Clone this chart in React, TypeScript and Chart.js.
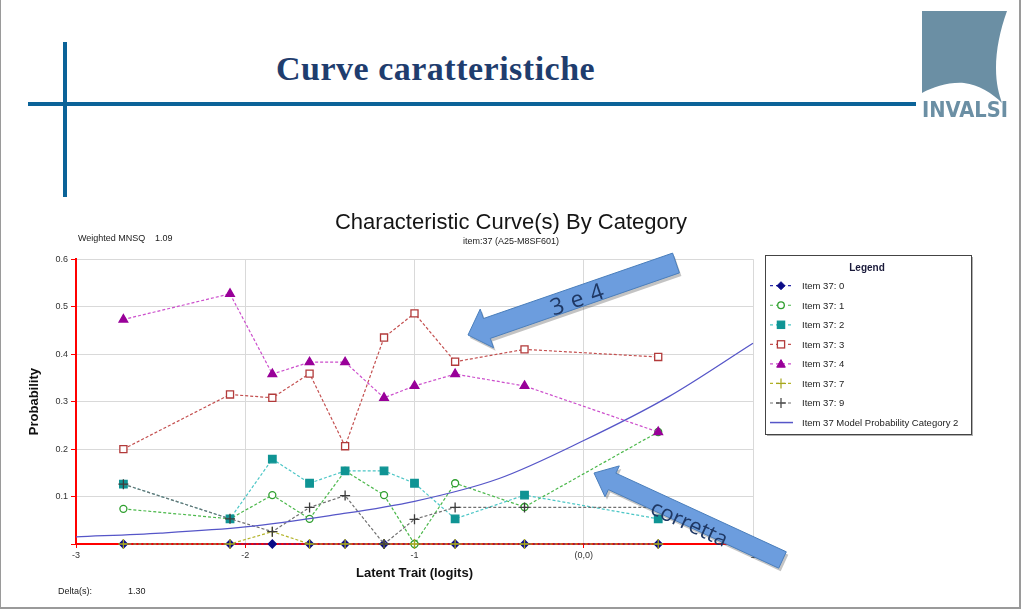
import React, { useEffect, useRef } from "react";
import { Chart, registerables } from "chart.js";

Chart.register(...registerables);

const FONT = '"Liberation Sans", Arial, sans-serif';

// Latent trait positions (logits) of the observed points
const xLogits = [-2.72, -2.09, -1.84, -1.62, -1.41, -1.18, -1.0, -0.76, -0.35, 0.44];
// Observed probabilities by category
const cat0 = [0, 0, 0, 0, 0, 0, 0, 0, 0, 0];
const cat1 = [0.074, 0.053, 0.103, 0.053, 0.154, 0.103, 0, 0.128, 0.078, 0.236];
const cat2 = [0.126, 0.053, 0.179, 0.128, 0.154, 0.154, 0.128, 0.053, 0.103, 0.053];
const cat3 = [0.2, 0.315, 0.308, 0.359, 0.206, 0.435, 0.486, 0.384, 0.41, 0.394];
const cat4 = [0.473, 0.527, 0.358, 0.383, 0.383, 0.308, 0.333, 0.358, 0.333, 0.236];
const cat7 = [0, 0, 0.026, 0, 0, 0, 0, 0, 0, 0];
const cat9 = [0.126, 0.053, 0.026, 0.077, 0.102, 0, 0.052, 0.077, 0.077, 0.077];
// Model probability curve (category 2)
const modelX = [-3, -2.5, -2, -1.5, -1, -0.5, 0, 0.5, 1];
const modelP = [0.015, 0.023, 0.036, 0.06, 0.09, 0.138, 0.218, 0.31, 0.423];

const seriesLabels = [
  "Item 37: 0",
  "Item 37: 1",
  "Item 37: 2",
  "Item 37: 3",
  "Item 37: 4",
  "Item 37: 7",
  "Item 37: 9",
  "Item 37 Model Probability Category 2",
];
const yTicks = [0, 0.1, 0.2, 0.3, 0.4, 0.5, 0.6];
const xTicks = [-3, -2, -1, 0, 1];

type Sty = {
  point: string;
  line: string;
  fill: string;
  shape: string;
  r: number;
};
const styles: Sty[] = [
  { point: "#0b0b86", line: "#2a2aa8", fill: "#0b0b86", shape: "rectRot", r: 4 },
  { point: "#2f9f2f", line: "#4bb84b", fill: "#ffffff", shape: "circle", r: 3.5 },
  { point: "#0f9494", line: "#4cc6c6", fill: "#0f9494", shape: "rect", r: 5.3 },
  { point: "#b23a3a", line: "#c45050", fill: "#ffffff", shape: "rect", r: 5 },
  { point: "#990099", line: "#cc4fcc", fill: "#990099", shape: "triangle", r: 5 },
  { point: "#a6a61c", line: "#b4b42a", fill: "#a6a61c", shape: "cross", r: 5 },
  { point: "#3c3c3c", line: "#707070", fill: "#3c3c3c", shape: "cross", r: 5 },
];
const modelColor = "#5656c8";

function arrowPts(tx: number, ty: number, hx: number, hy: number, sw: number, hw: number, hl: number) {
  const dx = hx - tx, dy = hy - ty;
  const L = Math.hypot(dx, dy);
  const ux = dx / L, uy = dy / L;
  const nx = -uy, ny = ux;
  const bx = hx - ux * hl, by = hy - uy * hl;
  const p = [
    [tx + (nx * sw) / 2, ty + (ny * sw) / 2],
    [bx + (nx * sw) / 2, by + (ny * sw) / 2],
    [bx + (nx * hw) / 2, by + (ny * hw) / 2],
    [hx, hy],
    [bx - (nx * hw) / 2, by - (ny * hw) / 2],
    [bx - (nx * sw) / 2, by - (ny * sw) / 2],
    [tx - (nx * sw) / 2, ty - (ny * sw) / 2],
  ];
  return p.map((q) => q[0].toFixed(1) + "," + q[1].toFixed(1)).join(" ");
}

function LegendMarker({ s, x, y }: { s: Sty; x: number; y: number }) {
  const line = <line x1={x - 11} y1={y} x2={x + 11} y2={y} stroke={s.line} strokeWidth={1.2} strokeDasharray="3,3" />;
  let m: any = null;
  if (s.shape === "rectRot")
    m = <polygon points={`${x - 4},${y} ${x},${y - 4} ${x + 4},${y} ${x},${y + 4}`} fill={s.fill} stroke={s.point} />;
  else if (s.shape === "circle") m = <circle cx={x} cy={y} r={3.3} fill="#fff" stroke={s.point} strokeWidth={1.3} />;
  else if (s.shape === "rect")
    m = <rect x={x - 3.6} y={y - 3.6} width={7.2} height={7.2} fill={s.fill} stroke={s.point} strokeWidth={1.3} />;
  else if (s.shape === "triangle")
    m = <polygon points={`${x - 4.3},${y + 3.3} ${x + 4.3},${y + 3.3} ${x},${y - 4.3}`} fill={s.fill} stroke={s.point} />;
  else
    m = (
      <g stroke={s.point} strokeWidth={1.2}>
        <line x1={x - 5} y1={y} x2={x + 5} y2={y} />
        <line x1={x} y1={y - 5} x2={x} y2={y + 5} />
      </g>
    );
  return (
    <g>
      {line}
      {m}
    </g>
  );
}

export default function App() {
  const ref = useRef<HTMLCanvasElement | null>(null);

  useEffect(() => {
    if (!ref.current) return;
    const cats = [cat0, cat1, cat2, cat3, cat4, cat7, cat9];
    const datasets: any[] = cats.map((vals, i) => {
      const s = styles[i];
      return {
        label: seriesLabels[i],
        data: xLogits.map((x, j) => ({ x, y: vals[j] })),
        borderColor: s.line,
        backgroundColor: s.fill,
        pointBorderColor: s.point,
        pointBackgroundColor: s.fill,
        pointStyle: s.shape,
        pointRadius: s.r,
        pointBorderWidth: 1.3,
        borderWidth: 1.2,
        borderDash: [3, 2],
        showLine: true,
        tension: 0,
        clip: false,
        order: 10 - i,
      };
    });
    datasets.push({
      label: seriesLabels[7],
      data: modelX.map((x, j) => ({ x, y: modelP[j] })),
      borderColor: modelColor,
      backgroundColor: modelColor,
      borderWidth: 1.3,
      pointRadius: 0,
      cubicInterpolationMode: "monotone",
      clip: false,
      order: 0,
    });

    const chart = new Chart(ref.current, {
      type: "line",
      data: { datasets },
      options: {
        responsive: false,
        animation: false,
        layout: { padding: 0 },
        plugins: {
          legend: { display: false },
          tooltip: { enabled: false },
          title: {
            display: true,
            text: "Characteristic Curve(s) By Category",
            color: "#151515",
            font: { family: FONT, size: 22, weight: "normal" },
            padding: { top: 10, bottom: 0 },
          },
          subtitle: {
            display: true,
            text: "item:37 (A25-M8SF601)",
            color: "#222",
            font: { family: FONT, size: 9 },
            padding: { top: 0, bottom: 12 },
          },
        },
        scales: {
          x: {
            type: "linear",
            min: xTicks[0],
            max: xTicks[xTicks.length - 1],
            afterBuildTicks: (s: any) => {
              s.ticks = xTicks.map((v) => ({ value: v }));
            },
            ticks: {
              callback: (v: any) => (Number(v) === 0 ? "(0,0)" : String(v)),
              color: "#333",
              font: { family: FONT, size: 9 },
              padding: 2,
              maxRotation: 0,
            },
            grid: { color: "#d9d9d9", lineWidth: 1, tickColor: "#ff0000", tickLength: 4 },
            border: { color: "#ff0000", width: 2 },
            title: {
              display: true,
              text: "Latent Trait (logits)",
              color: "#111",
              font: { family: FONT, size: 13, weight: "bold" },
              padding: { top: 0, bottom: 29 },
            },
            afterFit: (s: any) => {
              s.height = 66;
            },
          },
          y: {
            type: "linear",
            position: "left",
            min: yTicks[0],
            max: yTicks[yTicks.length - 1],
            afterBuildTicks: (s: any) => {
              s.ticks = yTicks.map((v) => ({ value: v }));
            },
            ticks: {
              callback: (v: any) => (Number(v) === 0 ? "" : Number(v).toFixed(1)),
              color: "#333",
              font: { family: FONT, size: 9 },
              padding: 3,
            },
            grid: { color: "#d9d9d9", lineWidth: 1, tickColor: "#ff0000", tickLength: 5 },
            border: { color: "#ff0000", width: 2 },
            title: {
              display: true,
              text: "Probability",
              color: "#111",
              font: { family: FONT, size: 13, weight: "bold" },
              padding: { top: 27, bottom: 0 },
            },
            afterFit: (s: any) => {
              s.width = 76;
            },
          },
          yRight: {
            type: "linear",
            position: "right",
            display: true,
            min: 0,
            max: 1,
            grid: { display: false, drawTicks: false },
            border: { display: false },
            ticks: { display: false },
            afterFit: (s: any) => {
              s.width = 269;
            },
          },
        },
      } as any,
    });
    return () => chart.destroy();
  }, []);

  const legendY0 = 285.7;
  const legendStep = 19.55;

  return (
    <div
      style={{
        position: "fixed",
        left: 0,
        top: 0,
        width: 1022,
        height: 610,
        background: "#ffffff",
        overflow: "hidden",
        fontFamily: FONT,
      }}
    >
      {/* slide frame */}
      <div
        style={{
          position: "absolute",
          left: 0,
          top: 0,
          width: 1018,
          height: 607,
          borderLeft: "1px solid #9a9a9a",
          borderRight: "2px solid #9a9a9a",
          borderBottom: "2px solid #9a9a9a",
        }}
      />
      {/* decorative lines */}
      <div style={{ position: "absolute", left: 28, top: 102, width: 888, height: 4, background: "#0b6398" }} />
      <div style={{ position: "absolute", left: 63, top: 42, width: 4, height: 155, background: "#0b6398" }} />
      {/* slide title */}
      <div
        style={{
          position: "absolute",
          left: 276,
          top: 49,
          fontFamily: '"Liberation Serif", "Times New Roman", serif',
          fontWeight: "bold",
          fontSize: 34,
          letterSpacing: 0.5,
          color: "#1f3d6e",
          lineHeight: "40px",
          whiteSpace: "nowrap",
        }}
      >
        Curve caratteristiche
      </div>

      <canvas
        ref={ref}
        width={1022}
        height={410}
        style={{ position: "absolute", left: 0, top: 200, width: 1022, height: 410 }}
      />

      <svg
        width={1022}
        height={610}
        style={{ position: "absolute", left: 0, top: 0, pointerEvents: "none" }}
      >
        {/* INVALSI logo */}
        <path
          d="M922,11 L1007,11 C1000,30 996,50 996,68 C996,84 999,94 1002,103 C992,93 979,85 964,83 C948,82 934,87 922,93 Z"
          fill="#6b8fa4"
        />
        <text
          x={922}
          y={117}
          fill="#6b8fa4"
          fontFamily='"DejaVu Sans Condensed", "Liberation Sans Narrow", "DejaVu Sans", sans-serif'
          fontWeight="bold"
          fontSize={22}
          textLength={86}
          lengthAdjust="spacingAndGlyphs"
        >
          INVALSI
        </text>

        {/* chart side notes */}
        <text x={78} y={241} fontSize={9} fill="#222" fontFamily={FONT}>
          Weighted MNSQ
        </text>
        <text x={155} y={241} fontSize={9} fill="#222" fontFamily={FONT}>
          1.09
        </text>
        <text x={58} y={594} fontSize={9} fill="#222" fontFamily={FONT}>
          Delta(s):
        </text>
        <text x={128} y={594} fontSize={9} fill="#222" fontFamily={FONT}>
          1.30
        </text>

        {/* legend */}
        <rect x={767} y={257} width={206} height={179} fill="#b0b0b0" />
        <rect x={765.5} y={255.5} width={206} height={179} fill="#ffffff" stroke="#444" strokeWidth={1} />
        <text x={867} y={271} textAnchor="middle" fontSize={10} fontWeight="bold" fill="#1a1a3a" fontFamily={FONT}>
          Legend
        </text>
        {seriesLabels.map((lab, i) => {
          const y = legendY0 + i * legendStep;
          return (
            <g key={lab}>
              {i < 7 ? (
                <LegendMarker s={styles[i]} x={781} y={y} />
              ) : (
                <line x1={770} y1={y} x2={793} y2={y} stroke={modelColor} strokeWidth={1.5} />
              )}
              <text x={802} y={y + 3.3} fontSize={9.5} fill="#222" fontFamily={FONT}>
                {lab}
              </text>
            </g>
          );
        })}

        {/* annotation arrows */}
        <g transform="translate(2,3)" opacity={0.35}>
          <polygon points={arrowPts(676, 263, 468, 335, 21, 41, 20)} fill="#555" />
          <polygon points={arrowPts(782.5, 560, 594, 473, 18, 34, 20)} fill="#555" />
        </g>
        <polygon points={arrowPts(676, 263, 468, 335, 21, 41, 20)} fill="#6c9dde" stroke="#4a7ebb" strokeWidth={1} />
        <polygon points={arrowPts(782.5, 560, 594, 473, 18, 34, 20)} fill="#6c9dde" stroke="#4a7ebb" strokeWidth={1} />
        <text
          x={577}
          y={298}
          transform="rotate(-19.1 577 298)"
          textAnchor="middle"
          dominantBaseline="central"
          fontSize={23}
          letterSpacing={1}
          fill="#1f3864"
          fontFamily='"Open Sans", "Noto Sans", sans-serif'
        >
          3 e 4
        </text>
        <text
          x={690}
          y={522}
          transform="rotate(24.7 690 522)"
          textAnchor="middle"
          dominantBaseline="central"
          fontSize={22}
          fill="#1f3864"
          fontFamily='"Open Sans", "Noto Sans", sans-serif'
        >
          corretta
        </text>
      </svg>
    </div>
  );
}
